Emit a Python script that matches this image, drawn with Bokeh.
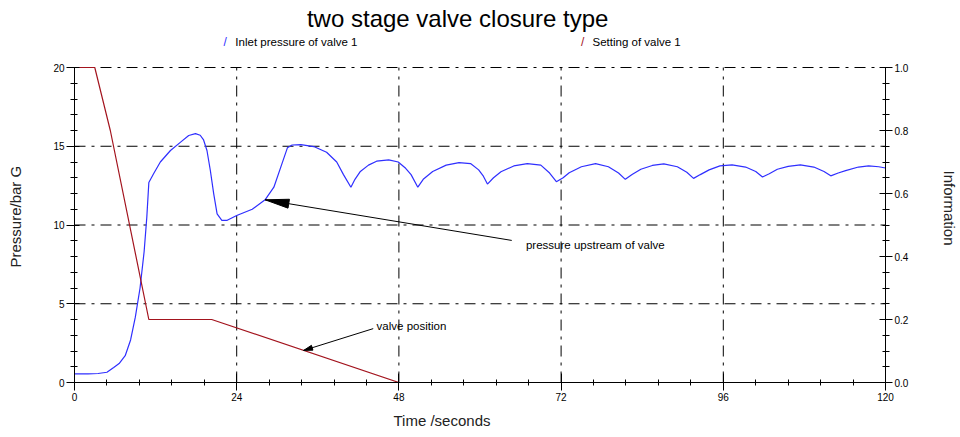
import numpy as np
from bokeh.plotting import figure
from bokeh.models import (Range1d, LinearAxis, FixedTicker, PrintfTickFormatter, Label, Title)
from bokeh.embed import file_html
from bokeh.resources import INLINE

# ---- data -------------------------------------------------------------
title_text = "two stage valve closure type"
series_names = ["Inlet pressure of valve 1", "Setting of valve 1"]
x_title = "Time /seconds"
y_left_title = "Pressure/bar G"
y_right_title = "Information"

# inlet pressure of valve 1 (bar G) against time (s)
time_s = [0, 2, 3.5, 4.8, 5.8, 6.6, 7.5, 8.3, 9.0, 9.7, 10.3, 10.7, 11.0, 11.7,
          12.7, 14.2, 15.7, 16.9, 17.9, 18.6, 19.1, 19.6, 20.1, 20.6, 21.1, 21.8,
          22.6, 24.0, 26.3, 28.2, 29.5, 30.7, 31.5, 32.2, 33.5, 35.4, 37.3, 38.8,
          39.8, 40.9, 41.5, 42.3, 43.5, 44.7, 46.5, 47.9, 49.0, 49.8, 50.8, 51.6,
          53.0, 55.0, 56.9, 58.6, 59.8, 60.5, 61.1, 62.0, 63.1, 65.0, 67.0, 69.0,
          70.3, 71.3, 72.3, 73.2, 75.0, 77.1, 79.0, 80.5, 81.5, 82.5, 83.8, 85.5,
          87.2, 89.2, 90.6, 91.6, 92.6, 93.9, 95.5, 97.3, 99.3, 100.8, 101.8, 102.8,
          104.0, 105.6, 107.4, 109.4, 110.9, 111.9, 113.0, 114.1, 116.0, 117.5,
          119.0, 120.0]
inlet_pressure_bar = [0.55, 0.55, 0.57, 0.65, 0.95, 1.2, 1.7, 2.7, 4.15, 6.0, 8.3,
                      10.5, 12.7, 13.25, 14.0, 14.73, 15.26, 15.68, 15.8, 15.7, 15.4,
                      14.73, 13.46, 11.98, 10.71, 10.3, 10.3, 10.6, 11.0, 11.6, 12.4,
                      13.9, 14.9, 15.08, 15.1, 14.98, 14.62, 14.0, 13.2, 12.4, 12.9,
                      13.4, 13.8, 14.05, 14.13, 14.0, 13.6, 13.2, 12.4, 12.9, 13.4,
                      13.8, 13.96, 13.9, 13.5, 13.1, 12.6, 13.0, 13.38, 13.75, 13.9,
                      13.8, 13.3, 12.75, 13.0, 13.32, 13.7, 13.9, 13.7, 13.3, 12.9,
                      13.2, 13.54, 13.78, 13.88, 13.7, 13.35, 12.96, 13.2, 13.5,
                      13.75, 13.82, 13.68, 13.4, 13.05, 13.25, 13.54, 13.72, 13.82,
                      13.68, 13.4, 13.12, 13.3, 13.45, 13.68, 13.75, 13.7, 13.62]

# setting of valve 1 (fraction open) against time (s)
setting_time_s = [0, 3, 5.3, 11.0, 20.3, 48.0, 120.0]
setting_valve = [1.0, 1.0, 0.8, 0.2, 0.2, 0.0, 0.0]

x_ticks = [0, 24, 48, 72, 96, 120]
x_minor_ticks = [i * 4.8 for i in range(26)]
y_ticks = [0, 5, 10, 15, 20]
y_minor_ticks = list(range(0, 21))
info_ticks = [0.0, 0.2, 0.4, 0.6, 0.8, 1.0]
info_minor_ticks = [i * 0.05 for i in range(21)]
x_grid = [24, 48, 72, 96]
y_grid = [5, 10, 15, 20]

X_MAX, P_MAX, INFO_MAX = 120, 20, 1.0

# ---- figure -----------------------------------------------------------
# The frame reaches the top of the canvas so that the heading and the key
# can be drawn as plain labels; axes and grid stop at the top of the data.
W, H = 960, 437
BL, BR, BB = 74, 74, 55
AXES_TOP_PX = 67
FRAME_H = H - BB
P_TOP = P_MAX * FRAME_H / (FRAME_H - AXES_TOP_PX)
INFO_TOP = INFO_MAX * FRAME_H / (FRAME_H - AXES_TOP_PX)

FONT = "Liberation Sans"
BLUE = "#2f2fff"
RED = "#a3141e"
LABEL_GREY = "#222222"

p = figure(width=W, height=H, x_range=Range1d(0, X_MAX), y_range=Range1d(0, P_TOP),
           output_backend="svg", toolbar_location=None,
           min_border_left=BL, min_border_right=BR,
           min_border_top=0, min_border_bottom=BB)
p.outline_line_color = None
p.background_fill_color = "white"
p.border_fill_color = "white"
p.extra_y_ranges = {"info": Range1d(0, INFO_TOP)}
p.grid.visible = False
p.title.text = ""

# pixel scale of the frame, used for arrow heads
sx = (W - BL - BR) / X_MAX
sy = (FRAME_H - AXES_TOP_PX) / P_MAX
sy_info = (FRAME_H - AXES_TOP_PX) / INFO_MAX

# grid: dash-dot lines
GRID_DASH = "11 6 3 6"
p.segment(x0=x_grid, y0=[0] * len(x_grid), x1=x_grid, y1=[P_MAX] * len(x_grid),
          line_color="black", line_width=1, line_dash=GRID_DASH)
p.segment(x0=[0] * len(y_grid), y0=y_grid, x1=[X_MAX] * len(y_grid), y1=y_grid,
          line_color="black", line_width=1, line_dash=GRID_DASH)


def style_axis(ax):
    ax.axis_line_color = "black"
    ax.major_tick_line_color = "black"
    ax.minor_tick_line_color = "black"
    ax.major_label_text_font = FONT
    ax.major_label_text_font_size = "10px"
    ax.major_label_text_color = "black"
    ax.major_label_standoff = 2


xa = p.xaxis[0]
style_axis(xa)
xa.ticker = FixedTicker(ticks=x_ticks, minor_ticks=x_minor_ticks)
xa.major_tick_in, xa.major_tick_out = 9, 8
xa.minor_tick_in, xa.minor_tick_out = 3, 3

ya = p.yaxis[0]
style_axis(ya)
ya.bounds = (0, P_MAX)
ya.ticker = FixedTicker(ticks=y_ticks, minor_ticks=y_minor_ticks)
ya.major_tick_in, ya.major_tick_out = 5, 8
ya.minor_tick_in, ya.minor_tick_out = 3, 4

ra = LinearAxis(y_range_name="info", bounds=(0, INFO_MAX))
style_axis(ra)
ra.ticker = FixedTicker(ticks=info_ticks, minor_ticks=info_minor_ticks)
ra.formatter = PrintfTickFormatter(format="%.1f")
ra.major_tick_in, ra.major_tick_out = 6, 7
ra.minor_tick_in, ra.minor_tick_out = 3, 4
p.add_layout(ra, "right")


# axis titles, placed along the side panels (a blank spacer pushes the
# vertical ones away from the tick labels)
def side_gap(side, size):
    p.add_layout(Title(text=" ", standoff=size, text_font_size="1px"), side)


def side_title(text, side, offset, standoff):
    p.add_layout(Title(text=text, align="left", offset=offset, standoff=standoff,
                       text_font=FONT, text_font_size="15px", text_font_style="normal",
                       text_color=LABEL_GREY), side)


side_title(x_title, "below", 319, 12)
side_gap("left", 22)
side_title(y_left_title, "left", 115, 4)
side_gap("right", 25)
side_title(y_right_title, "right", 170, 2)

# ---- series -----------------------------------------------------------
p.line(time_s, inlet_pressure_bar, line_color=BLUE, line_width=1.2)
p.line(setting_time_s, setting_valve, y_range_name="info", line_color=RED, line_width=1.2)


# ---- annotation arrows ------------------------------------------------
def head_polygon(tip, tail, length_px, half_w_px, ky):
    dx = (tail[0] - tip[0]) * sx
    dy = (tail[1] - tip[1]) * ky
    d = np.hypot(dx, dy)
    ux, uy = dx / d, dy / d
    px, py = -uy, ux
    bx, by = tip[0] * sx + ux * length_px, tip[1] * ky + uy * length_px
    xs = [tip[0], (bx + px * half_w_px) / sx, (bx - px * half_w_px) / sx]
    ys = [tip[1], (by + py * half_w_px) / ky, (by - py * half_w_px) / ky]
    return xs, ys


# pressure upstream of valve
t_tip = 28.2
tip = (t_tip, float(np.interp(t_tip, time_s, inlet_pressure_bar)))
tail = (64.7, 9.02)
p.segment(x0=[tip[0]], y0=[tip[1]], x1=[tail[0]], y1=[tail[1]], line_color="black", line_width=1)
hx, hy = head_polygon(tip, tail, 24, 4.5, sy)
p.patch(hx, hy, fill_color="black", line_color="black")

# valve position
t_tip2 = 33.9
tip2 = (t_tip2, float(np.interp(t_tip2, setting_time_s, setting_valve)))
tail2 = (44.2, 0.171)
p.segment(x0=[tip2[0]], y0=[tip2[1]], x1=[tail2[0]], y1=[tail2[1]],
          y_range_name="info", line_color="black", line_width=1)
hx2, hy2 = head_polygon(tip2, tail2, 9, 2.5, sy_info)
p.patch(hx2, hy2, y_range_name="info", fill_color="black", line_color="black")


# ---- texts ------------------------------------------------------------
def add_text(x, y, text, size, color="black", align="left"):
    p.add_layout(Label(x=x, y=y, text=text, text_font=FONT, text_font_size=size,
                       text_color=color, text_align=align, text_baseline="middle"))


add_text(56.7, 23.1, title_text, "24px", align="center")
add_text(22.3, 21.65, "/", "12px", color=BLUE, align="center")
add_text(23.8, 21.65, series_names[0], "11.5px")
add_text(75.2, 21.65, "/", "12px", color=RED, align="center")
add_text(76.65, 21.65, series_names[1], "11.5px")
add_text(66.8, 8.76, "pressure upstream of valve", "11.5px")
add_text(44.7, 3.56, "valve position", "11.5px")

open("out.html", "w").write(file_html(p, INLINE))
